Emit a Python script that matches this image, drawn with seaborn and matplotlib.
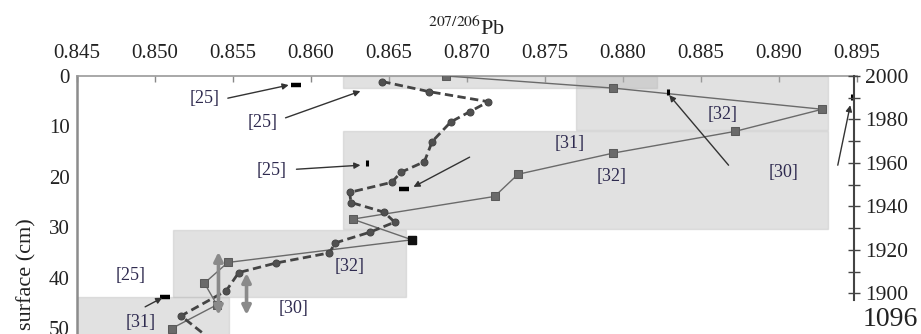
import matplotlib
matplotlib.use("Agg")
import matplotlib.pyplot as plt
import pandas as pd
import seaborn as sns
from matplotlib.patches import Rectangle
from matplotlib.ticker import MultipleLocator

# ---------------- data ----------------
x_ticks = [0.845, 0.850, 0.855, 0.860, 0.865, 0.870, 0.875, 0.880, 0.885, 0.890, 0.895]
depth_ticks = [0, 10, 20, 30, 40, 50]
year_ticks = [1900, 1920, 1940, 1960, 1980, 2000]

# dashed series with circles (207/206Pb vs depth)
dash_ratio = [0.8646, 0.8676, 0.8714, 0.8702, 0.8690, 0.8678, 0.8673, 0.8658, 0.8652,
              0.8625, 0.8626, 0.8647, 0.8654, 0.8638, 0.8616, 0.8612, 0.8578, 0.8554,
              0.8546, 0.8517, 0.8539]
dash_depth = [1.1, 3.1, 5.1, 7.1, 9.1, 13.0, 17.0, 19.1, 21.1, 23.1, 25.1, 27.0, 29.0,
              31.0, 33.1, 35.1, 37.1, 39.0, 42.6, 47.6, 53.0]

# solid series with squares
sq_ratio = [0.8687, 0.8794, 0.8928, 0.8872, 0.8794, 0.8733, 0.8718, 0.8627, 0.8665,
            0.8547, 0.8532, 0.8540, 0.8511]
sq_depth = [0.0, 2.4, 6.6, 11.0, 15.3, 19.5, 23.9, 28.4, 32.5, 37.0, 41.1, 45.4, 50.1]

# literature values (black marks)
hbar_ratio = [0.8591, 0.8660, 0.8507]
hbar_depth = [1.8, 22.4, 43.9]
vbar_ratio = [0.8636, 0.8829, 0.8947]
vbar_depth = [17.3, 3.1, 4.2]
blk_sq_ratio = [0.8665]
blk_sq_depth = [32.5]

# shaded ranges from other studies
box_x0 = [0.8621, 0.8770, 0.8621, 0.8512, 0.8450]
box_x1 = [0.8822, 0.8932, 0.8932, 0.8661, 0.8548]
box_d0 = [0.0, 0.0, 10.9, 30.5, 43.8]
box_d1 = [2.4, 10.7, 30.4, 43.8, 60.0]

# reference labels
ref_text = ["[25]", "[25]", "[25]", "[25]", "[31]", "[31]", "[32]", "[32]", "[30]", "[32]", "[30]"]
ref_x = [0.8532, 0.8569, 0.8575, 0.8485, 0.8491, 0.8766, 0.8864, 0.8793, 0.8903, 0.8625, 0.8589]
ref_d = [4.4, 9.3, 18.7, 39.5, 49.0, 13.3, 7.7, 20.0, 19.2, 37.7, 46.2]

# thin pointer arrows
arr_x0 = [0.8547, 0.8584, 0.8591, 0.8494, 0.8702, 0.8868, 0.8938]
arr_d0 = [4.4, 8.3, 18.5, 45.8, 16.1, 17.7, 17.7]
arr_x1 = [0.8586, 0.8632, 0.8632, 0.8505, 0.8666, 0.8830, 0.8946]
arr_d1 = [1.8, 3.0, 17.7, 44.0, 22.0, 3.8, 5.8]

# grey double arrows
dbl_x = [0.8541, 0.8559]
dbl_d0 = [34.9, 39.1]
dbl_d1 = [47.4, 47.4]

# ---------------- style ----------------
sns.set_theme(style="white")
plt.rcParams["font.family"] = ["Liberation Serif", "DejaVu Serif"]
plt.rcParams["mathtext.fontset"] = "stix"

W, H = 921, 334
fig = plt.figure(figsize=(W / 100, H / 100), dpi=100)

ax_left, ax_right = 76.5, 856.5
ax_top_px = 76
ax = fig.add_axes([ax_left / W, 0.0, (ax_right - ax_left) / W, (H - ax_top_px) / H])
ax.set_xlim(0.845, 0.895)
ax.set_ylim((H - ax_top_px) / 5.04, 0)

# boxes
for x0, x1, d0, d1 in zip(box_x0, box_x1, box_d0, box_d1):
    ax.add_patch(Rectangle((x0, d0), x1 - x0, d1 - d0, facecolor="#b4b4b4", alpha=0.4,
                           edgecolor="#bcbcbc", lw=1.0, zorder=1))

# series
df_dash = pd.DataFrame({"ratio": dash_ratio, "depth": dash_depth})
df_sq = pd.DataFrame({"ratio": sq_ratio, "depth": sq_depth})
sns.lineplot(data=df_sq, x="ratio", y="depth", sort=False, estimator=None, ax=ax,
             color="#6a6a6a", lw=1.0, marker="s", markersize=5.5,
             markeredgecolor="#5a5a5a", markerfacecolor="#6a6a6a", zorder=3)
sns.lineplot(data=df_dash, x="ratio", y="depth", sort=False, estimator=None, ax=ax,
             color="#444444", lw=2.0, linestyle=(0, (3, 1.6)), marker="o", markersize=5,
             markeredgecolor="#444444", markerfacecolor="#505050", zorder=4)

ax.plot(hbar_ratio, hbar_depth, ls="none", marker="_", ms=7.5, mew=3.2, color="black", zorder=5)
ax.plot(vbar_ratio, vbar_depth, ls="none", marker="|", ms=5, mew=2.2, color="black", zorder=5)
ax.plot(blk_sq_ratio, blk_sq_depth, ls="none", marker="s", ms=6, color="#111111", zorder=5)

# labels
for t, x, d in zip(ref_text, ref_x, ref_d):
    ax.text(x, d, t, ha="center", va="center", fontsize=13, color="#2e2a4f", zorder=6)

# arrows
for x0, d0, x1, d1 in zip(arr_x0, arr_d0, arr_x1, arr_d1):
    ax.annotate("", xy=(x1, d1), xytext=(x0, d0), annotation_clip=False,
                arrowprops=dict(arrowstyle="-|>", color="#333333", lw=1.0,
                                mutation_scale=9, shrinkA=0, shrinkB=0), zorder=6)
for x, d0, d1 in zip(dbl_x, dbl_d0, dbl_d1):
    ax.annotate("", xy=(x, d1), xytext=(x, d0),
                arrowprops=dict(arrowstyle="<|-|>", color="#8a8a8a", lw=2.6,
                                mutation_scale=13, shrinkA=0, shrinkB=0), zorder=6)

# axes cosmetics
ax.set_xticks(x_ticks)
ax.set_xticklabels([f"{v:.3f}" for v in x_ticks])
ax.set_yticks(depth_ticks)
ax.xaxis.tick_top()
ax.xaxis.set_label_position("top")
ax.tick_params(axis="x", direction="in", length=4, width=1, color="#888888",
               labelsize=15, pad=9, labelcolor="#222222")
ax.tick_params(axis="y", direction="out", length=3, width=1, color="#888888",
               labelsize=15, pad=2, labelcolor="#222222")
for s in ["right", "bottom"]:
    ax.spines[s].set_visible(False)
ax.spines["left"].set_color("#8c8c8c")
ax.spines["left"].set_linewidth(1.8)
ax.spines["top"].set_color("#9a9a9a")
ax.spines["top"].set_linewidth(1.2)
ax.set_xlabel(r"$^{207/206}$Pb", fontsize=16, labelpad=7, color="#222222")
ax.set_ylabel("surface (cm)", fontsize=16, color="#222222")
ax.yaxis.set_label_coords(-0.051, 0.232)

# time axis on the right
ax2 = fig.add_axes([854 / W - 0.0001, (H - 300) / H, 0.0001, (300 - 76) / H])
ax2.set_ylim(1897, 2000)
ax2.patch.set_visible(False)
for s in ["top", "bottom", "left"]:
    ax2.spines[s].set_visible(False)
ax2.spines["right"].set_color("#444444")
ax2.spines["right"].set_linewidth(1.5)
ax2.set_xticks([])
ax2.yaxis.tick_right()
ax2.set_yticks(year_ticks)
ax2.yaxis.set_minor_locator(MultipleLocator(10))
ax2.tick_params(axis="y", which="both", direction="inout", length=8, width=1,
                color="#444444", labelsize=15.5, pad=4, labelcolor="#222222")
ax2.tick_params(axis="y", which="minor", labelright=False)

fig.text(890 / W, 1 - 320 / H, "1096", ha="center", va="center", fontsize=20, color="#222222")

fig.savefig("out.png", dpi=100)
